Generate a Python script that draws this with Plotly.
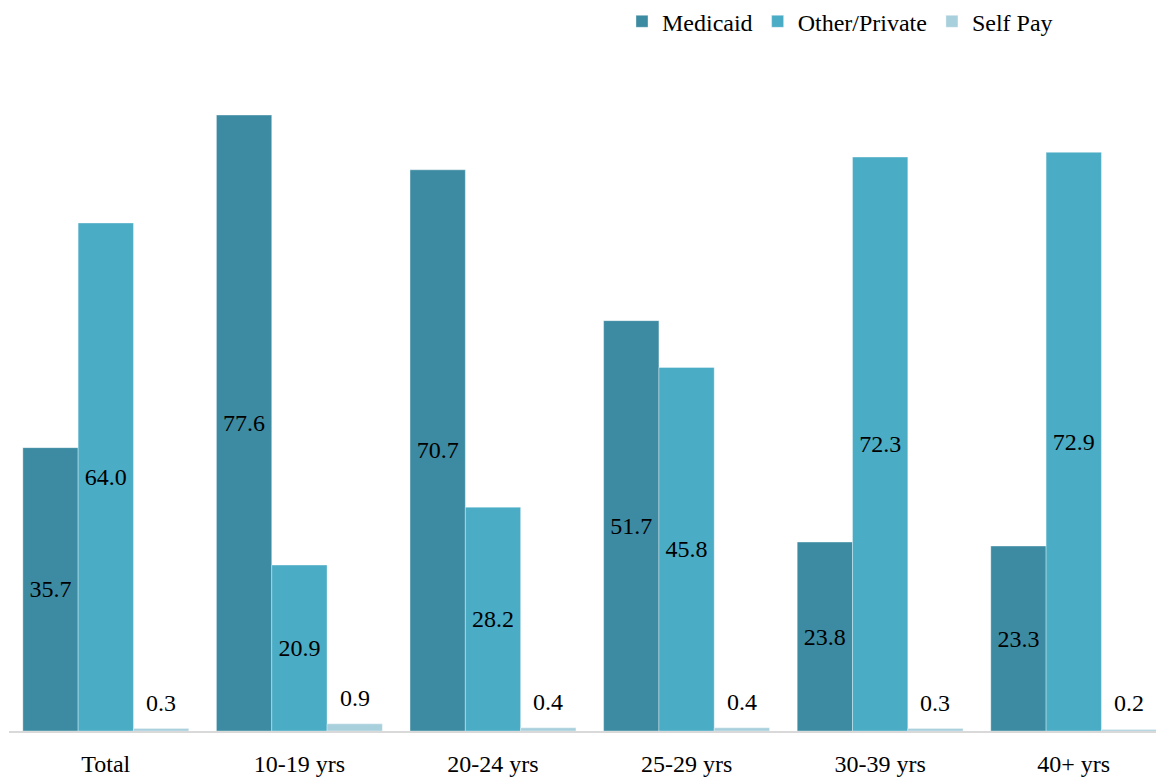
import plotly.graph_objects as go

categories = ["Total", "10-19 yrs", "20-24 yrs", "25-29 yrs", "30-39 yrs", "40+ yrs"]
medicaid = [35.7, 77.6, 70.7, 51.7, 23.8, 23.3]
other_private = [64.0, 20.9, 28.2, 45.8, 72.3, 72.9]
self_pay = [0.3, 0.9, 0.4, 0.4, 0.3, 0.2]

FONT = "Liberation Serif"
FS = 24
W, H = 1156, 773
ML, MR = 1, 1
XR = [-0.5, 5.461]
BARGAP = 0.143
px_per_cat = (W - ML - MR) / (XR[1] - XR[0])
bar_w = (1 - BARGAP) / 3 * px_per_cat

edge = dict(color="rgba(255,255,255,0.35)", width=1)
fig = go.Figure()
fig.add_bar(name="Medicaid", x=categories, y=medicaid, marker_color="#3d8ba2",
            marker_line=edge,
            texttemplate="%{y:.1f}", textposition="inside", insidetextanchor="middle",
            textfont=dict(color="black", size=FS, family=FONT), textangle=0)
fig.add_bar(name="Other/Private", x=categories, y=other_private, marker_color="#4aacc5",
            marker_line=edge,
            texttemplate="%{y:.1f}", textposition="inside", insidetextanchor="middle",
            textfont=dict(color="black", size=FS, family=FONT), textangle=0)
fig.add_bar(name="Self Pay", x=categories, y=self_pay, marker_color="#a8cfdc",
            marker_line=edge, textposition="none")

for c, v in zip(categories, self_pay):
    fig.add_annotation(x=c, y=v, text=f"{v:.1f}", showarrow=False,
                       xref="x", yref="y", yanchor="bottom", xanchor="center",
                       xshift=bar_w, yshift=11,
                       font=dict(color="black", size=FS, family=FONT))

fig.update_layout(
    width=W, height=H,
    margin=dict(l=ML, r=MR, t=88, b=50, autoexpand=False),
    paper_bgcolor="white", plot_bgcolor="white",
    barmode="group", bargap=BARGAP, bargroupgap=0,
    font=dict(family=FONT, size=FS, color="black"),
    legend=dict(orientation="h", x=0.909, xanchor="right", y=1.117, yanchor="middle",
                font=dict(size=FS, family=FONT), itemwidth=30, traceorder="normal"),
    xaxis=dict(range=XR, showline=True, linecolor="#d9d9d9", linewidth=2,
               ticks="", showgrid=False, ticklabelstandoff=10,
               tickfont=dict(size=FS, family=FONT)),
    yaxis=dict(range=[0, 80], visible=False, showgrid=False, zeroline=False),
)
fig.write_html("out.html")
